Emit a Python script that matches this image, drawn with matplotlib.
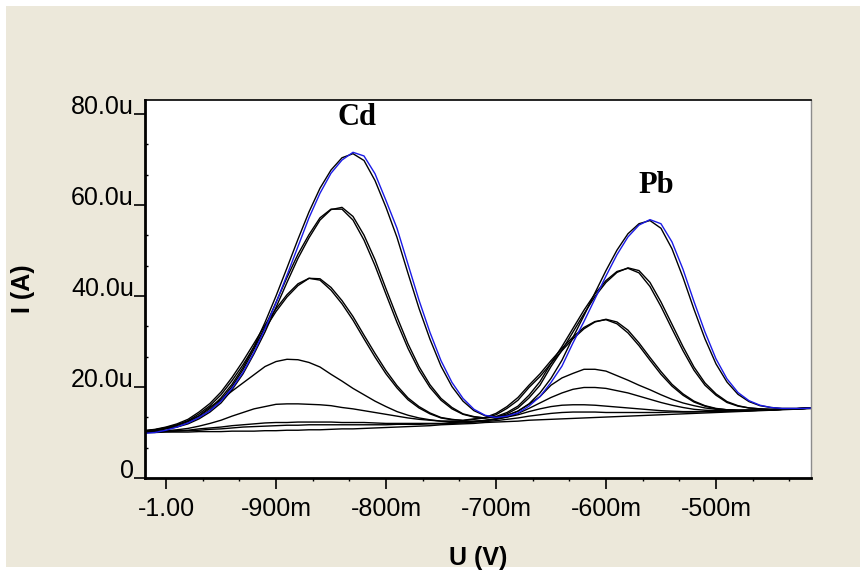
import numpy as np
import matplotlib.pyplot as plt
from matplotlib.patches import Rectangle
from matplotlib.ticker import AutoMinorLocator

# potential (V)
u = [-1.02, -1.01, -1.00, -0.99, -0.98, -0.97, -0.96, -0.95, -0.94, -0.93,
     -0.92, -0.91, -0.90, -0.89, -0.88, -0.87, -0.86, -0.85, -0.84, -0.83,
     -0.82, -0.81, -0.80, -0.79, -0.78, -0.77, -0.76, -0.75, -0.74, -0.73,
     -0.72, -0.71, -0.70, -0.69, -0.68, -0.67, -0.66, -0.65, -0.64, -0.63,
     -0.62, -0.61, -0.60, -0.59, -0.58, -0.57, -0.56, -0.55, -0.54, -0.53,
     -0.52, -0.51, -0.50, -0.49, -0.48, -0.47, -0.46, -0.45, -0.44, -0.43,
     -0.42, -0.41]

# current (uA), highest standard addition (blue trace)
i_top_blue = [9.8, 10.0, 10.5, 11.2, 12.1, 13.3, 14.8, 16.9, 19.7, 23.2,
              27.6, 32.8, 38.5, 44.6, 50.9, 57.2, 62.6, 67.0, 69.9, 71.6,
              70.8, 66.9, 61.0, 54.9, 47.0, 39.1, 32.0, 25.8, 21.0, 17.5,
              15.1, 13.8, 13.3, 13.6, 14.3, 15.8, 17.9, 21.0, 24.6, 29.7,
              34.4, 39.4, 44.4, 49.1, 53.0, 55.6, 56.8, 55.9, 51.9, 45.9,
              38.8, 32.1, 26.2, 21.8, 18.8, 17.0, 16.0, 15.5, 15.3, 15.3,
              15.3, 15.4]
i_top = [10.3, 10.6, 11.0, 11.6, 12.4, 13.6, 15.3, 17.6, 20.6, 24.3,
         28.9, 34.2, 40.0, 46.2, 52.5, 58.5, 63.7, 67.7, 70.4, 71.3,
         69.8, 65.4, 59.5, 52.9, 45.0, 37.3, 30.5, 24.6, 20.1, 16.9,
         14.8, 13.7, 13.4, 13.8, 14.7, 16.3, 18.7, 21.9, 25.9, 30.9,
         35.7, 40.7, 45.6, 50.1, 53.7, 55.9, 56.6, 54.9, 50.4, 44.1,
         37.1, 30.6, 25.1, 21.1, 18.4, 16.8, 15.9, 15.5, 15.3, 15.3,
         15.3, 15.4]
i_6a = [10.3, 10.4, 10.8, 11.2, 11.9, 13.0, 14.5, 16.5, 19.4, 22.9,
        27.3, 32.1, 37.5, 43.0, 48.3, 52.8, 56.7, 59.0, 59.5, 57.5,
        53.4, 48.0, 41.6, 35.4, 29.5, 24.5, 20.5, 17.5, 15.5, 14.1,
        13.5, 13.2, 13.4, 14.1, 15.4, 17.6, 20.4, 24.5, 28.1, 32.1,
        36.1, 39.9, 43.0, 45.2, 46.2, 45.6, 43.0, 38.7, 33.8, 28.9,
        24.4, 20.9, 18.5, 16.8, 15.9, 15.4, 15.2, 15.1, 15.1, 15.2,
        15.3, 15.4]
i_6b = [10.3, 10.5, 10.9, 11.3, 12.1, 13.3, 14.9, 17.1, 20.1, 23.8,
        28.3, 33.2, 38.6, 44.1, 49.2, 53.5, 57.2, 59.1, 59.1, 56.7,
        52.3, 46.7, 40.4, 34.2, 28.5, 23.7, 19.9, 17.1, 15.2, 14.0,
        13.4, 13.2, 13.5, 14.4, 15.8, 18.2, 21.2, 25.2, 28.9, 32.9,
        36.9, 40.5, 43.4, 45.4, 46.1, 45.1, 42.1, 37.7, 32.8, 28.0,
        23.7, 20.4, 18.2, 16.6, 15.8, 15.4, 15.2, 15.1, 15.1, 15.2,
        15.3, 15.4]
i_5a = [10.4, 10.6, 11.1, 11.7, 12.6, 14.1, 15.9, 18.3, 21.4, 24.9,
        28.8, 32.8, 36.6, 39.8, 42.3, 43.9, 43.8, 41.9, 39.0, 35.5,
        31.4, 27.4, 23.6, 20.3, 17.6, 15.7, 14.3, 13.3, 12.9, 12.6,
        12.9, 13.2, 13.9, 15.3, 17.1, 19.9, 22.3, 25.2, 28.0, 30.6,
        32.8, 34.3, 34.9, 34.3, 32.5, 29.7, 26.5, 23.4, 20.6, 18.5,
        16.9, 15.9, 15.3, 15.0, 14.9, 14.9, 14.9, 15.0, 15.1, 15.2,
        15.3, 15.4]
i_5b = [10.4, 10.7, 11.2, 11.9, 12.9, 14.5, 16.4, 18.9, 22.1, 25.7,
        29.6, 33.6, 37.2, 40.3, 42.7, 43.9, 43.5, 41.3, 38.3, 34.7,
        30.6, 26.6, 22.9, 19.8, 17.2, 15.4, 14.1, 13.2, 12.8, 12.7,
        13.0, 13.3, 14.2, 15.7, 17.7, 20.4, 22.9, 25.8, 28.5, 31.0,
        33.1, 34.4, 34.8, 33.9, 31.9, 29.1, 25.9, 22.8, 20.2, 18.2,
        16.7, 15.8, 15.2, 15.0, 14.9, 14.9, 14.9, 15.0, 15.1, 15.2,
        15.3, 15.4]
i_4 = [10.3, 10.5, 10.9, 11.6, 12.5, 13.7, 15.6, 17.2, 19.1, 20.9,
       22.7, 24.5, 25.6, 26.1, 26.0, 25.4, 24.4, 22.8, 21.3, 19.7,
       18.3, 16.9, 15.7, 14.6, 13.8, 13.2, 12.8, 12.5, 12.4, 12.4,
       12.4, 12.7, 13.0, 13.7, 14.7, 16.2, 17.9, 20.4, 22.0, 23.0,
       23.9, 23.9, 23.5, 22.5, 21.5, 20.4, 19.4, 18.3, 17.3, 16.5,
       15.9, 15.4, 15.1, 15.0, 14.9, 14.9, 14.9, 15.0, 15.1, 15.2,
       15.3, 15.4]
i_3 = [10.2, 10.3, 10.4, 10.6, 10.9, 11.4, 12.0, 12.7, 13.6, 14.4,
       15.2, 15.7, 16.2, 16.3, 16.3, 16.2, 16.1, 15.9, 15.5, 15.2,
       14.8, 14.4, 14.0, 13.6, 13.2, 12.9, 12.7, 12.5, 12.5, 12.4,
       12.5, 12.6, 12.9, 13.4, 14.2, 15.3, 16.5, 17.7, 18.7, 19.5,
       19.9, 19.9, 19.7, 19.2, 18.7, 18.0, 17.3, 16.6, 16.0, 15.5,
       15.1, 14.9, 14.8, 14.8, 14.8, 14.8, 14.9, 15.0, 15.1, 15.2,
       15.3, 15.4]
i_2 = [10.1, 10.1, 10.3, 10.4, 10.5, 10.8, 11.0, 11.2, 11.5, 11.7,
       11.9, 12.1, 12.2, 12.2, 12.3, 12.3, 12.3, 12.3, 12.2, 12.2,
       12.2, 12.1, 12.0, 12.0, 12.0, 12.0, 12.0, 12.0, 12.2, 12.3,
       12.4, 12.6, 13.0, 13.4, 13.9, 14.6, 15.2, 15.7, 16.0, 16.1,
       16.1, 16.0, 15.8, 15.6, 15.4, 15.2, 15.0, 14.8, 14.7, 14.6,
       14.6, 14.6, 14.6, 14.7, 14.7, 14.8, 14.9, 15.0, 15.1, 15.2,
       15.3, 15.4]
i_1 = [10.1, 10.1, 10.2, 10.3, 10.4, 10.5, 10.7, 10.8, 11.0, 11.2,
       11.3, 11.4, 11.5, 11.6, 11.6, 11.7, 11.7, 11.7, 11.7, 11.7,
       11.7, 11.7, 11.7, 11.8, 11.8, 11.8, 11.9, 11.9, 12.0, 12.1,
       12.3, 12.4, 12.6, 12.9, 13.2, 13.6, 13.9, 14.2, 14.4, 14.5,
       14.5, 14.5, 14.4, 14.4, 14.4, 14.4, 14.4, 14.4, 14.5, 14.5,
       14.5, 14.6, 14.6, 14.7, 14.8, 14.9, 14.9, 15.0, 15.1, 15.2,
       15.3, 15.4]
i_blank = [10.0, 10.0, 10.1, 10.1, 10.1, 10.2, 10.2, 10.2, 10.3, 10.3,
           10.3, 10.4, 10.4, 10.5, 10.5, 10.6, 10.6, 10.7, 10.8, 10.8,
           10.9, 11.0, 11.1, 11.2, 11.3, 11.4, 11.5, 11.7, 11.8, 11.9,
           12.0, 12.2, 12.3, 12.4, 12.5, 12.7, 12.8, 12.9, 13.0, 13.1,
           13.2, 13.3, 13.4, 13.5, 13.6, 13.7, 13.8, 13.9, 14.0, 14.1,
           14.2, 14.3, 14.4, 14.5, 14.6, 14.7, 14.8, 14.9, 15.0, 15.1,
           15.2, 15.3]

x_ticks = [-1.0, -0.9, -0.8, -0.7, -0.6, -0.5]
x_labels = ["-1.00", "-900m", "-800m", "-700m", "-600m", "-500m"]
y_ticks = [0, 20, 40, 60, 80]
y_labels = ["0", "20.0u", "40.0u", "60.0u", "80.0u"]

fig = plt.figure(figsize=(8.6, 5.72), dpi=100, facecolor="white")
fig.patches.append(Rectangle((6 / 860, 5 / 572), 854 / 860, 561 / 572,
                             transform=fig.transFigure, facecolor="#ECE8DA",
                             edgecolor="none", zorder=-5))

ax = fig.add_axes([145 / 860, 1 - 478 / 572, 666 / 860, 378 / 572])
ax.set_facecolor("white")

black_traces = [i_blank, i_1, i_2, i_3, i_4, i_5a, i_5b, i_6a, i_6b, i_top]
for tr in black_traces:
    ax.plot(u, tr, color="black", lw=1.0)
ax.plot(u, i_top_blue, color="#1A1AE6", lw=1.0)

ax.set_xlim(-1.0191, -0.4136)
ax.set_ylim(0, 83.1)

ax.set_xticks(x_ticks, x_labels)
ax.set_yticks(y_ticks, y_labels)
ax.xaxis.set_minor_locator(AutoMinorLocator(3))
ax.yaxis.set_minor_locator(AutoMinorLocator(3))

font = "Liberation Sans"
ax.tick_params(axis="x", which="major", direction="out", length=8, width=1.2,
               pad=6, labelsize=18)
ax.tick_params(axis="y", which="major", direction="out", length=8, width=1.2,
               pad=0, labelsize=18)
ax.tick_params(axis="x", which="minor", direction="out", length=2.5, width=1.0)
ax.tick_params(axis="y", which="minor", direction="in", length=2.5, width=1.0)
for lab in ax.get_xticklabels() + ax.get_yticklabels():
    lab.set_fontfamily(font)
plt.setp(ax.get_yticklabels(), va="baseline")

for side in ["left", "bottom"]:
    ax.spines[side].set_linewidth(2.0)
ax.spines["top"].set_linewidth(1.2)
ax.spines["right"].set_linewidth(1.0)
ax.spines["right"].set_color("#8C8C8C")

ax.set_xlabel("U (V)", fontsize=18, fontweight="bold", fontfamily=font,
              labelpad=18)
ax.set_ylabel("I (A)", fontsize=18, fontweight="bold", fontfamily=font,
              labelpad=26)

ax.text(-0.8264, 79.3, "Cd", fontsize=22, fontweight="bold",
        fontfamily="Liberation Serif", ha="center", va="center")
ax.text(-0.554, 64.2, "Pb", fontsize=22, fontweight="bold",
        fontfamily="Liberation Serif", ha="center", va="center")

fig.savefig("out.png", dpi=100, facecolor=fig.get_facecolor())
